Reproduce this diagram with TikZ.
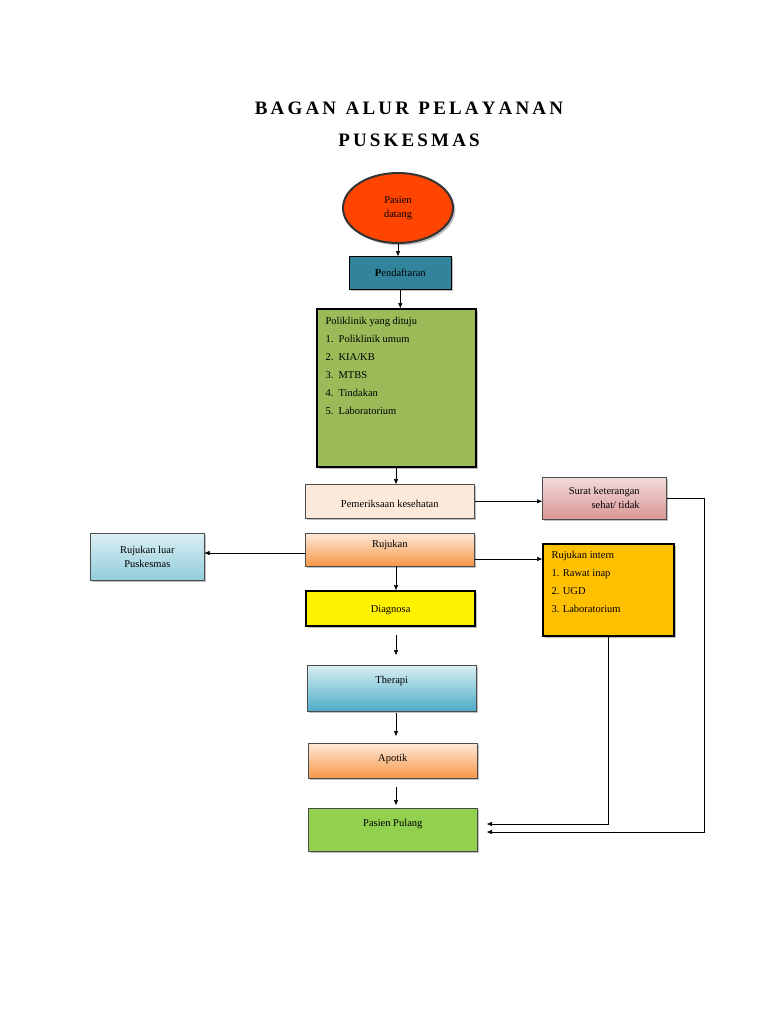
\documentclass[tikz,border=0pt]{standalone}
\usepackage{fontspec}
\setmainfont{Liberation Serif}
\usetikzlibrary{shapes.geometric,shadows,arrows.meta}
\begin{document}
\begin{tikzpicture}[x=1pt,y=-1pt,
  bx/.style={draw=black!70,line width=0.6pt,drop shadow={shadow xshift=2pt,shadow yshift=-2pt,opacity=0.5},font=\fontsize{10.5}{12.5}\selectfont},
  thk/.style={draw=black,line width=2.2pt},
  ar/.style={-{Triangle[length=5pt,width=4pt]},line width=0.6pt},
  ln/.style={line width=0.6pt}]
\useasboundingbox (0,0) rectangle (768,1024);
\node[font=\bfseries\fontsize{19}{22}\selectfont] (t1) at (409,108) {B\,A\,G\,A\,N\ \ A\,L\,U\,R\ \ P\,E\,L\,A\,Y\,A\,N\,A\,N};
\node[font=\bfseries\fontsize{19}{22}\selectfont] (t2) at (409,140) {P\,U\,S\,K\,E\,S\,M\,A\,S};
\node[ellipse,draw=black!80,line width=2pt,fill={rgb,255:red,255;green,69;blue,0},minimum width=110pt,minimum height=70pt,align=center,drop shadow,font=\fontsize{10.5}{14}\selectfont] (pd) at (398,208) {Pasien\\datang};
\node[bx,fill={rgb,255:red,49;green,132;blue,155},minimum width=102pt,minimum height=33pt,anchor=north west,draw=black] (pf) at (349,256) {};
\node at (pf.center) {\fontsize{10.5}{12}\selectfont\textbf{P}endaftaran};
\node[thk,fill={rgb,255:red,155;green,187;blue,89},minimum width=159pt,minimum height=158pt,anchor=north west,drop shadow] (pk) at (316,308) {};
\node[anchor=north west,align=left,font=\fontsize{10.5}{18}\selectfont] (pkt) at (322,314) {Poliklinik yang dituju\\1.\ \ Poliklinik umum\\2.\ \ KIA/KB\\3.\ \ MTBS\\4.\ \ Tindakan\\5.\ \ Laboratorium};
\node[bx,fill={rgb,255:red,253;green,233;blue,217},minimum width=169pt,minimum height=34pt,anchor=north west] (pm) at (305,484) {};
\node[font=\fontsize{10.5}{12}\selectfont] at ([yshift=-3pt]pm.center) {Pemeriksaan kesehatan};
\node[bx,top color={rgb,255:red,242;green,220;blue,219},bottom color={rgb,255:red,217;green,150;blue,148},minimum width=124pt,minimum height=42pt,anchor=north west] (sk) at (542,477) {};
\node[align=right,font=\fontsize{10.5}{14}\selectfont] at (sk.center) {Surat keterangan\\sehat/ tidak};
\node[bx,top color={rgb,255:red,218;green,238;blue,243},bottom color={rgb,255:red,146;green,205;blue,220},minimum width=114pt,minimum height=47pt,anchor=north west] (rl) at (90,533) {};
\node[align=center,font=\fontsize{10.5}{14}\selectfont] at (rl.center) {Rujukan luar\\Puskesmas};
\node[bx,top color={rgb,255:red,253;green,233;blue,217},bottom color={rgb,255:red,247;green,150;blue,70},minimum width=169pt,minimum height=33pt,anchor=north west] (rj) at (305,533) {};
\node[font=\fontsize{10.5}{12}\selectfont] at ([yshift=-4pt]rj.north) [anchor=north] {Rujukan};
\node[thk,fill={rgb,255:red,255;green,192;blue,0},minimum width=131pt,minimum height=92pt,anchor=north west,drop shadow] (ri) at (542,543) {};
\node[anchor=north west,align=left,font=\fontsize{10.5}{18}\selectfont] at (548,548) {Rujukan intern\\1. Rawat inap\\2. UGD\\3. Laboratorium};
\node[thk,fill=yellow,minimum width=169pt,minimum height=35pt,anchor=north west,drop shadow] (dg) at (305,590) {};
\node[font=\fontsize{10.5}{12}\selectfont] at ([yshift=-2pt]dg.center) {Diagnosa};
\node[bx,top color={rgb,255:red,218;green,238;blue,243},bottom color={rgb,255:red,75;green,172;blue,198},minimum width=169pt,minimum height=46pt,anchor=north west] (th) at (307,665) {};
\node[font=\fontsize{10.5}{12}\selectfont,anchor=north] at ([yshift=-8pt]th.north) {Therapi};
\node[bx,top color={rgb,255:red,253;green,233;blue,217},bottom color={rgb,255:red,247;green,150;blue,70},minimum width=169pt,minimum height=35pt,anchor=north west] (ap) at (308,743) {};
\node[font=\fontsize{10.5}{12}\selectfont,anchor=north] at ([yshift=-8pt]ap.north) {Apotik};
\node[bx,fill={rgb,255:red,146;green,208;blue,80},minimum width=169pt,minimum height=43pt,anchor=north west] (pp) at (308,808) {};
\node[font=\fontsize{10.5}{12}\selectfont,anchor=north] at ([yshift=-8pt]pp.north) {Pasien Pulang};
% arrows
\draw[ar] (pd.south) -- (pd.south|-pf.north);
\draw[ar] (pf.south) -- (pf.south|-pk.north);
\draw[ar] (396,466) -- (396,484);
\draw[ar] (pm.east) -- (sk.west|-pm.east);
\draw[ar] (rj.west|-0,553) -- (rl.east|-0,553);
\draw[ar] (rj.east|-0,559) -- (ri.west|-0,559);
\draw[ar] (396,566) -- (396,590);
\coordinate (d1) at (396,635); \draw[ar] (d1) -- (396,655);
\coordinate (d2) at (396,713); \draw[ar] (d2) -- (396,736);
\coordinate (d3) at (396,787); \draw[ar] (d3) -- (396,805);
\coordinate (s1) at (704,498); \coordinate (s2) at (704,832);
\draw[ar] (sk.east|-s1) -- (s1) -- (s2) -- (487,832);
\coordinate (r1) at (608,824);
\draw[ar] (ri.south-|r1) -- (r1) -- (487,824);
\end{tikzpicture}
\end{document}
